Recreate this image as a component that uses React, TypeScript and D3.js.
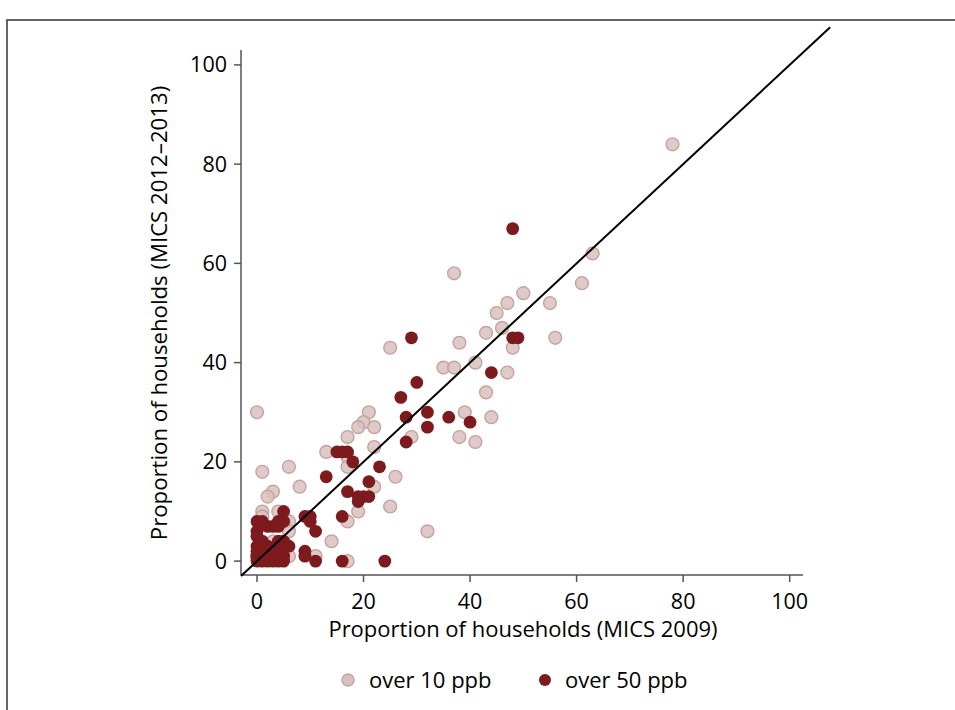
import React from "react";
import * as d3 from "d3";

// Proportion of households (%) in MICS 2009 vs MICS 2012–2013, per area
const over10X = [78, 63, 61, 55, 56, 50, 47, 45, 46, 43, 48, 38, 37, 35, 37, 41, 47, 43, 39, 44, 38, 41, 29, 25, 21, 20, 19, 22, 17, 22, 13, 17, 17, 26, 22, 19, 17, 25, 32, 14, 11, 17, 0, 1, 6, 8, 3, 2, 1, 4, 1, 6, 5, 6, 3, 1, 6, 2, 4, 0];
const over10Y = [84, 62, 56, 52, 45, 54, 52, 50, 47, 46, 43, 44, 58, 39, 39, 40, 38, 34, 30, 29, 25, 24, 25, 43, 30, 28, 27, 27, 25, 23, 22, 21, 19, 17, 15, 10, 8, 11, 6, 4, 1, 0, 30, 18, 19, 15, 14, 13, 10, 10, 9, 8, 8, 6, 4, 3, 1, 1, 2, 1];

const over50X = [48, 29, 48, 49, 30, 27, 44, 28, 32, 36, 32, 40, 28, 15, 16, 17, 18, 23, 13, 21, 17, 19, 20, 21, 19, 16, 10, 9, 10, 11, 11, 16, 24, 0, 1, 2, 3, 4, 5, 5, 4, 4, 6, 0, 0, 0, 1, 2, 4, 5, 1, 9, 9, 3, 4, 0, 2, 5, 0, 1, 2, 3, 5, 0];
const over50Y = [67, 45, 45, 45, 36, 33, 38, 29, 30, 29, 27, 28, 24, 22, 22, 22, 20, 19, 17, 16, 14, 13, 13, 13, 12, 9, 9, 9, 8, 6, 0, 0, 0, 8, 8, 7, 7, 7, 10, 8, 8, 4, 3, 3, 2, 0, 0, 1, 2, 1, 2, 2, 1, 0, 0, 1, 0, 0, 5, 4, 3, 2, 4, 6];

const xTicks = [0, 20, 40, 60, 80, 100];
const yTicks = [0, 20, 40, 60, 80, 100];
const legendLabels = ["over 10 ppb", "over 50 ppb"];

const FONT = "'Open Sans', 'Noto Sans', sans-serif";
const LIGHT_FILL = "#d8c1be";
const LIGHT_STROKE = "#c6a29e";
const DARK_FILL = "#7c1a1d";
const AXIS = "#555";
const TEXT = "#000";

export default function App() {
  const x = d3.scaleLinear().domain([-3, 102.5]).range([241, 803]);
  const y = d3.scaleLinear().domain([-2.8, 103]).range([575, 50]);
  const r = 6.4;

  const light = over10X.map((v, i) => [v, over10Y[i]]);
  const dark = over50X.map((v, i) => [v, over50Y[i]]);

  const line = d3.line<number>().x((d) => x(d)).y((d) => y(d));

  return (
    <svg
      width={955}
      height={710}
      style={{ position: "absolute", left: 0, top: 0, background: "#fff" }}
      fontFamily={FONT}
    >
      {/* panel frame */}
      <path d="M7,710 V20 H955" fill="none" stroke="#333" strokeWidth={1.5} />

      {/* x axis */}
      <line x1={x.range()[0]} x2={x.range()[1]} y1={575} y2={575} stroke={AXIS} strokeWidth={1.5} />
      {xTicks.map((t) => (
        <g key={"x" + t}>
          <line x1={x(t)} x2={x(t)} y1={575} y2={582} stroke={AXIS} strokeWidth={1.5} />
          <text x={x(t)} y={609} textAnchor="middle" fontSize={21.5} fill={TEXT}>
            {t}
          </text>
        </g>
      ))}
      <text x={523} y={637} textAnchor="middle" fontSize={22} fill={TEXT}>
        Proportion of households (MICS 2009)
      </text>

      {/* y axis */}
      <line x1={241} x2={241} y1={y.range()[0]} y2={y.range()[1]} stroke={AXIS} strokeWidth={1.5} />
      {yTicks.map((t) => (
        <g key={"y" + t}>
          <line x1={234} x2={241} y1={y(t)} y2={y(t)} stroke={AXIS} strokeWidth={1.5} />
          <text x={227} y={y(t) + 7.5} textAnchor="end" fontSize={21.5} fill={TEXT}>
            {t}
          </text>
        </g>
      ))}
      <text
        transform={`translate(167,313) rotate(-90)`}
        textAnchor="middle"
        fontSize={22.2}
        fill={TEXT}
      >
        Proportion of households (MICS 2012–2013)
      </text>

      {/* points */}
      {light.map(([a, b], i) => (
        <circle key={"l" + i} cx={x(a)} cy={y(b)} r={r} fill={LIGHT_FILL} fillOpacity={0.85} stroke={LIGHT_STROKE} strokeWidth={1.4} />
      ))}
      {dark.map(([a, b], i) => (
        <circle key={"d" + i} cx={x(a)} cy={y(b)} r={r} fill={DARK_FILL} />
      ))}

      {/* line of equality */}
      <path d={line([-3, 107.6]) || ""} stroke="#000" strokeWidth={2} fill="none" />

      {/* legend */}
      <circle cx={348} cy={680} r={6} fill={LIGHT_FILL} stroke={LIGHT_STROKE} strokeWidth={1.4} />
      <text x={369} y={688} fontSize={22} fill={TEXT}>{legendLabels[0]}</text>
      <circle cx={545} cy={680} r={6} fill={DARK_FILL} />
      <text x={565} y={688} fontSize={22} fill={TEXT}>{legendLabels[1]}</text>
    </svg>
  );
}
